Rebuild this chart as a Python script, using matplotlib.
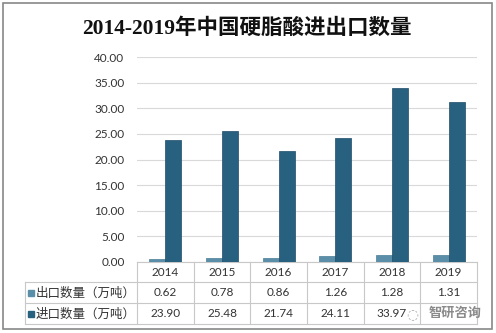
import numpy as np
import matplotlib.pyplot as plt
from matplotlib.patches import Rectangle
from matplotlib.lines import Line2D
import matplotlib.transforms as mtransforms

plt.rcParams['font.family'] = ['Lato', 'Noto Sans CJK SC', 'DejaVu Sans']

years = ['2014', '2015', '2016', '2017', '2018', '2019']
export_qty = [0.62, 0.78, 0.86, 1.26, 1.28, 1.31]
import_qty = [23.90, 25.48, 21.74, 24.11, 33.97, 31.24]
series_names = ['出口数量（万吨）', '进口数量（万吨）']
yticks = np.arange(0, 45, 5)

W, H = 496, 333
fig = plt.figure(figsize=(W / 100, H / 100), dpi=100)


def fx(px):
    return px / W


def fy(py):
    return 1 - py / H


ax = fig.add_axes([fx(137), fy(262), fx(477) - fx(137), fy(57) - fy(262)])

c_exp = '#5b8fa9'
c_imp = '#28607f'
x = np.arange(len(years))
bw = 0.28
ax.bar(x - bw / 2, export_qty, bw, color=c_exp, edgecolor='#4a7d96', linewidth=0.5, zorder=3)
ax.bar(x + bw / 2, import_qty, bw, color=c_imp, edgecolor='#1e4d68', linewidth=0.5, zorder=3)

ax.set_xlim(-0.5, len(years) - 0.5)
ax.set_ylim(0, 40)
ax.set_yticks(yticks)
ax.set_yticklabels([f'{v:.2f}' for v in yticks], fontsize=8.5, color='#333333')
ax.set_xticks([])
ax.tick_params(axis='y', length=0, pad=9)
ax.grid(axis='y', color='#d9d9d9', linewidth=0.8, zorder=0)
for s in ['top', 'right', 'left']:
    ax.spines[s].set_visible(False)
ax.spines['bottom'].set_color('#c8c8c8')

# data table under the axes
tr = mtransforms.blended_transform_factory(ax.transData, fig.transFigure)
lc = '#c8c8c8'
rows_y = [262, 282, 303, 324]


def fig_line(xs, ys):
    fig.add_artist(Line2D([fx(v) for v in xs], [fy(v) for v in ys], color=lc, linewidth=0.8))


for yy in rows_y[1:]:
    fig_line([25, 477], [yy, yy])
fig_line([25, 25], [282, 324])
for b in np.arange(len(years) + 1) - 0.5:
    fig.add_artist(Line2D([b, b], [fy(262), fy(324)], color=lc, linewidth=0.8, transform=tr))

tc = '#333333'
for i, yr in enumerate(years):
    fig.text(i, fy(272), yr, transform=tr, ha='center', va='center', fontsize=8.5, color=tc)
    fig.text(i, fy(292.5), f'{export_qty[i]:.2f}', transform=tr, ha='center', va='center', fontsize=8.5, color=tc)
    # last import cell is covered by the watermark in the original
    if i < len(years) - 1:
        fig.text(i, fy(313.5), f'{import_qty[i]:.2f}', transform=tr, ha='center', va='center', fontsize=8.5, color=tc)

for name, col, yc in zip(series_names, [c_exp, c_imp], [292.5, 313.5]):
    fig.add_artist(Rectangle((fx(28), fy(yc + 3)), fx(6), fy(0) - fy(6), color=col, transform=fig.transFigure))
    fig.text(fx(36), fy(yc), name, ha='left', va='center', fontsize=9, color=tc)

# watermark
fig.text(fx(412), fy(314), '◌', ha='center', va='center', fontsize=10, color='#aaaaaa',
         family=['DejaVu Sans'])
fig.text(fx(455), fy(313), '智研咨询', ha='center', va='center', fontsize=9.5,
         fontweight='bold', color='#8a8a8a')

fig.text(fx(247), fy(29), '2014-2019年中国硬脂酸进出口数量', ha='center', va='center',
         fontsize=15.5, fontweight='bold', color='#111111',
         family=['Liberation Serif', 'Noto Sans CJK SC'])

fig.add_artist(Rectangle((fx(3), fy(329)), fx(489), fy(0) - fy(326), fill=False,
                         edgecolor='#888888', linewidth=1.2, transform=fig.transFigure))

fig.savefig('out.png', dpi=100)
